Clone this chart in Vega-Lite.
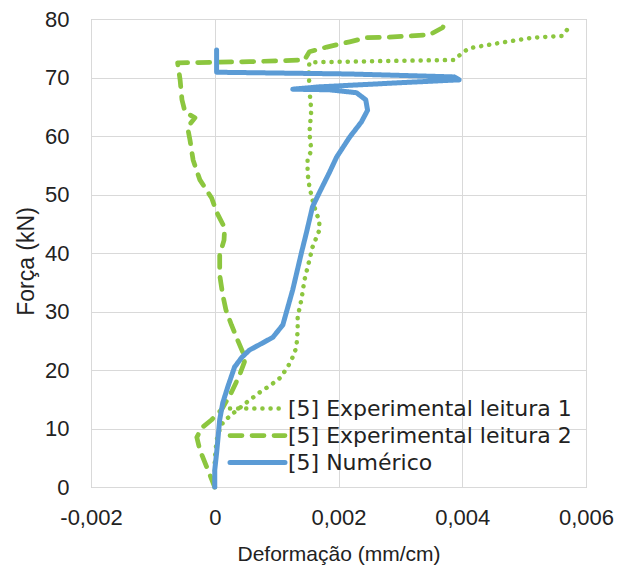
{
  "$schema": "https://vega.github.io/schema/vega-lite/v6.json",
  "width": 495,
  "height": 468,
  "autosize": {"type": "none"},
  "padding": {"left": 91, "top": 19, "right": 34, "bottom": 87},
  "background": "white",
  "config": {
    "view": {"stroke": "#bfbfbf", "strokeWidth": 1},
    "font": "Liberation Sans",
    "axis": {
      "grid": true, "gridColor": "#d9d9d9", "gridWidth": 1,
      "domain": false, "ticks": false,
      "labelFont": "Liberation Sans", "labelFontSize": 22, "labelColor": "#222222",
      "titleFont": "Liberation Sans", "titleFontSize": 21, "titleFontWeight": "normal", "titleColor": "#222222"
    }
  },
  "data": {"values": [
    {"s": "[5] Experimental leitura 1", "i": 0, "x": 0.0, "y": 0},
    {"s": "[5] Experimental leitura 1", "i": 1, "x": 0.0, "y": 4.6},
    {"s": "[5] Experimental leitura 1", "i": 2, "x": 0.00003, "y": 8.0},
    {"s": "[5] Experimental leitura 1", "i": 3, "x": 0.0001, "y": 10.6},
    {"s": "[5] Experimental leitura 1", "i": 4, "x": 0.00021, "y": 11.8},
    {"s": "[5] Experimental leitura 1", "i": 5, "x": 0.00032, "y": 12.8},
    {"s": "[5] Experimental leitura 1", "i": 6, "x": 0.00052, "y": 14.5},
    {"s": "[5] Experimental leitura 1", "i": 7, "x": 0.00073, "y": 16.2},
    {"s": "[5] Experimental leitura 1", "i": 8, "x": 0.00089, "y": 17.3},
    {"s": "[5] Experimental leitura 1", "i": 9, "x": 0.00105, "y": 18.6},
    {"s": "[5] Experimental leitura 1", "i": 10, "x": 0.00118, "y": 20.5},
    {"s": "[5] Experimental leitura 1", "i": 11, "x": 0.00126, "y": 22.2},
    {"s": "[5] Experimental leitura 1", "i": 12, "x": 0.00132, "y": 23.9},
    {"s": "[5] Experimental leitura 1", "i": 13, "x": 0.00134, "y": 26.8},
    {"s": "[5] Experimental leitura 1", "i": 14, "x": 0.00134, "y": 29.1},
    {"s": "[5] Experimental leitura 1", "i": 15, "x": 0.0014, "y": 32.0},
    {"s": "[5] Experimental leitura 1", "i": 16, "x": 0.00145, "y": 35.4},
    {"s": "[5] Experimental leitura 1", "i": 17, "x": 0.00153, "y": 38.8},
    {"s": "[5] Experimental leitura 1", "i": 18, "x": 0.00158, "y": 41.0},
    {"s": "[5] Experimental leitura 1", "i": 19, "x": 0.00169, "y": 43.9},
    {"s": "[5] Experimental leitura 1", "i": 20, "x": 0.00169, "y": 45.6},
    {"s": "[5] Experimental leitura 1", "i": 21, "x": 0.00164, "y": 46.8},
    {"s": "[5] Experimental leitura 1", "i": 22, "x": 0.00158, "y": 49.1},
    {"s": "[5] Experimental leitura 1", "i": 23, "x": 0.00153, "y": 51.3},
    {"s": "[5] Experimental leitura 1", "i": 24, "x": 0.0015, "y": 53.7},
    {"s": "[5] Experimental leitura 1", "i": 25, "x": 0.0015, "y": 55.9},
    {"s": "[5] Experimental leitura 1", "i": 26, "x": 0.00156, "y": 57.6},
    {"s": "[5] Experimental leitura 1", "i": 27, "x": 0.00153, "y": 60.5},
    {"s": "[5] Experimental leitura 1", "i": 28, "x": 0.00156, "y": 64.4},
    {"s": "[5] Experimental leitura 1", "i": 29, "x": 0.00153, "y": 67.9},
    {"s": "[5] Experimental leitura 1", "i": 30, "x": 0.00152, "y": 71.3},
    {"s": "[5] Experimental leitura 1", "i": 31, "x": 0.00153, "y": 72.6},
    {"s": "[5] Experimental leitura 1", "i": 32, "x": 0.00266, "y": 72.8},
    {"s": "[5] Experimental leitura 1", "i": 33, "x": 0.00387, "y": 73.0},
    {"s": "[5] Experimental leitura 1", "i": 34, "x": 0.004, "y": 74.2},
    {"s": "[5] Experimental leitura 1", "i": 35, "x": 0.00411, "y": 75.0},
    {"s": "[5] Experimental leitura 1", "i": 36, "x": 0.0046, "y": 75.9},
    {"s": "[5] Experimental leitura 1", "i": 37, "x": 0.00513, "y": 76.8},
    {"s": "[5] Experimental leitura 1", "i": 38, "x": 0.00561, "y": 77.1},
    {"s": "[5] Experimental leitura 1", "i": 39, "x": 0.00569, "y": 78.1},
    {"s": "[5] Experimental leitura 1", "i": 40, "x": 0.00577, "y": 79.1},
    {"s": "[5] Experimental leitura 2", "i": 0, "x": 0.0, "y": 0},
    {"s": "[5] Experimental leitura 2", "i": 1, "x": -0.00011, "y": 2.9},
    {"s": "[5] Experimental leitura 2", "i": 2, "x": -0.00024, "y": 6.3},
    {"s": "[5] Experimental leitura 2", "i": 3, "x": -0.00029, "y": 8.5},
    {"s": "[5] Experimental leitura 2", "i": 4, "x": -0.00021, "y": 10.1},
    {"s": "[5] Experimental leitura 2", "i": 5, "x": -0.00005, "y": 11.5},
    {"s": "[5] Experimental leitura 2", "i": 6, "x": 0.00011, "y": 13.2},
    {"s": "[5] Experimental leitura 2", "i": 7, "x": 0.00027, "y": 16.2},
    {"s": "[5] Experimental leitura 2", "i": 8, "x": 0.0004, "y": 19.1},
    {"s": "[5] Experimental leitura 2", "i": 9, "x": 0.00048, "y": 21.4},
    {"s": "[5] Experimental leitura 2", "i": 10, "x": 0.00045, "y": 23.1},
    {"s": "[5] Experimental leitura 2", "i": 11, "x": 0.00037, "y": 25.1},
    {"s": "[5] Experimental leitura 2", "i": 12, "x": 0.00027, "y": 27.7},
    {"s": "[5] Experimental leitura 2", "i": 13, "x": 0.00018, "y": 30.3},
    {"s": "[5] Experimental leitura 2", "i": 14, "x": 0.00013, "y": 32.8},
    {"s": "[5] Experimental leitura 2", "i": 15, "x": 0.00008, "y": 36.2},
    {"s": "[5] Experimental leitura 2", "i": 16, "x": 0.00008, "y": 39.7},
    {"s": "[5] Experimental leitura 2", "i": 17, "x": 0.00015, "y": 42.2},
    {"s": "[5] Experimental leitura 2", "i": 18, "x": 0.00016, "y": 44.3},
    {"s": "[5] Experimental leitura 2", "i": 19, "x": 0.00003, "y": 47.0},
    {"s": "[5] Experimental leitura 2", "i": 20, "x": -0.00005, "y": 49.4},
    {"s": "[5] Experimental leitura 2", "i": 21, "x": -0.00024, "y": 52.5},
    {"s": "[5] Experimental leitura 2", "i": 22, "x": -0.00035, "y": 55.9},
    {"s": "[5] Experimental leitura 2", "i": 23, "x": -0.0004, "y": 59.3},
    {"s": "[5] Experimental leitura 2", "i": 24, "x": -0.00044, "y": 61.5},
    {"s": "[5] Experimental leitura 2", "i": 25, "x": -0.00032, "y": 63.1},
    {"s": "[5] Experimental leitura 2", "i": 26, "x": -0.00048, "y": 64.1},
    {"s": "[5] Experimental leitura 2", "i": 27, "x": -0.00053, "y": 66.2},
    {"s": "[5] Experimental leitura 2", "i": 28, "x": -0.00056, "y": 69.6},
    {"s": "[5] Experimental leitura 2", "i": 29, "x": -0.0006, "y": 72.5},
    {"s": "[5] Experimental leitura 2", "i": 30, "x": 0.00056, "y": 72.7},
    {"s": "[5] Experimental leitura 2", "i": 31, "x": 0.00145, "y": 73.0},
    {"s": "[5] Experimental leitura 2", "i": 32, "x": 0.00153, "y": 74.4},
    {"s": "[5] Experimental leitura 2", "i": 33, "x": 0.00181, "y": 75.2},
    {"s": "[5] Experimental leitura 2", "i": 34, "x": 0.00218, "y": 76.1},
    {"s": "[5] Experimental leitura 2", "i": 35, "x": 0.00245, "y": 76.8},
    {"s": "[5] Experimental leitura 2", "i": 36, "x": 0.00282, "y": 76.9},
    {"s": "[5] Experimental leitura 2", "i": 37, "x": 0.00347, "y": 77.3},
    {"s": "[5] Experimental leitura 2", "i": 38, "x": 0.00368, "y": 78.5},
    {"s": "[5] Experimental leitura 2", "i": 39, "x": 0.00374, "y": 79.5},
    {"s": "[5] Numérico", "i": 0, "x": 0.0, "y": 0},
    {"s": "[5] Numérico", "i": 1, "x": 0.0, "y": 2.9},
    {"s": "[5] Numérico", "i": 2, "x": 0.00003, "y": 5.8},
    {"s": "[5] Numérico", "i": 3, "x": 0.00008, "y": 11.5},
    {"s": "[5] Numérico", "i": 4, "x": 0.00013, "y": 14.4},
    {"s": "[5] Numérico", "i": 5, "x": 0.00021, "y": 17.1},
    {"s": "[5] Numérico", "i": 6, "x": 0.00032, "y": 20.5},
    {"s": "[5] Numérico", "i": 7, "x": 0.00044, "y": 22.2},
    {"s": "[5] Numérico", "i": 8, "x": 0.00056, "y": 23.4},
    {"s": "[5] Numérico", "i": 9, "x": 0.00077, "y": 24.6},
    {"s": "[5] Numérico", "i": 10, "x": 0.00094, "y": 25.6},
    {"s": "[5] Numérico", "i": 11, "x": 0.0011, "y": 27.7},
    {"s": "[5] Numérico", "i": 12, "x": 0.00126, "y": 33.7},
    {"s": "[5] Numérico", "i": 13, "x": 0.0014, "y": 40.0},
    {"s": "[5] Numérico", "i": 14, "x": 0.00148, "y": 43.4},
    {"s": "[5] Numérico", "i": 15, "x": 0.00158, "y": 47.9},
    {"s": "[5] Numérico", "i": 16, "x": 0.00169, "y": 50.3},
    {"s": "[5] Numérico", "i": 17, "x": 0.00185, "y": 53.7},
    {"s": "[5] Numérico", "i": 18, "x": 0.00197, "y": 56.4},
    {"s": "[5] Numérico", "i": 19, "x": 0.00218, "y": 59.8},
    {"s": "[5] Numérico", "i": 20, "x": 0.00237, "y": 62.4},
    {"s": "[5] Numérico", "i": 21, "x": 0.00247, "y": 64.4},
    {"s": "[5] Numérico", "i": 22, "x": 0.00244, "y": 66.2},
    {"s": "[5] Numérico", "i": 23, "x": 0.00229, "y": 67.4},
    {"s": "[5] Numérico", "i": 24, "x": 0.00185, "y": 67.9},
    {"s": "[5] Numérico", "i": 25, "x": 0.00126, "y": 68.0},
    {"s": "[5] Numérico", "i": 26, "x": 0.00169, "y": 68.4},
    {"s": "[5] Numérico", "i": 27, "x": 0.00298, "y": 69.1},
    {"s": "[5] Numérico", "i": 28, "x": 0.00395, "y": 69.6},
    {"s": "[5] Numérico", "i": 29, "x": 0.00387, "y": 70.1},
    {"s": "[5] Numérico", "i": 30, "x": 0.00218, "y": 70.6},
    {"s": "[5] Numérico", "i": 31, "x": 0.00003, "y": 70.9},
    {"s": "[5] Numérico", "i": 32, "x": 0.00003, "y": 74.7}
  ]},
  "mark": {"type": "line", "strokeCap": "round", "strokeJoin": "round"},
  "encoding": {
    "x": {
      "field": "x", "type": "quantitative",
      "scale": {"domain": [-0.002, 0.006], "nice": false, "zero": false},
      "axis": {
        "values": [-0.002, 0, 0.002, 0.004, 0.006],
        "labelExpr": "datum.value == 0 ? '0' : replace(replace(format(datum.value, '.3f'), '.', ','), '\u2212', '-')",
        "labelFlush": false, "labelPadding": 20,
        "title": "Deformação (mm/cm)", "titlePadding": 15
      }
    },
    "y": {
      "field": "y", "type": "quantitative",
      "scale": {"domain": [0, 80], "nice": false},
      "axis": {
        "values": [0, 10, 20, 30, 40, 50, 60, 70, 80],
        "labelPadding": 22, "title": "Força (kN)", "titlePadding": 6, "titleFontSize": 23, "titleY": 242
      }
    },
    "color": {
      "field": "s", "type": "nominal",
      "scale": {"domain": ["[5] Experimental leitura 1", "[5] Experimental leitura 2", "[5] Numérico"], "range": ["#8CC63F", "#8CC63F", "#5B9BD5"]},
      "legend": {
        "orient": "none", "legendX": 153, "legendY": 376, "title": null,
        "symbolType": "M-2.5,0H2.5", "symbolSize": 484, "symbolStrokeWidth": 5,
        "labelOffset": 17, "labelFont": "DejaVu Sans", "labelFontSize": 22, "labelColor": "#222222",
        "rowPadding": 2, "padding": 0, "labelLimit": 400,
        "encode": {"symbols": {"update": {"strokeCap": {"value": "round"}}}}
      }
    },
    "strokeDash": {
      "field": "s", "type": "nominal",
      "scale": {"domain": ["[5] Experimental leitura 1", "[5] Experimental leitura 2", "[5] Numérico"], "range": [[0.1, 8], [12, 10], [1, 0]]},
      "legend": {
        "orient": "none", "legendX": 153, "legendY": 376, "title": null,
        "symbolType": "M-2.5,0H2.5", "symbolSize": 484, "symbolStrokeWidth": 5,
        "labelOffset": 17, "labelFont": "DejaVu Sans", "labelFontSize": 22, "labelColor": "#222222",
        "rowPadding": 2, "padding": 0, "labelLimit": 400,
        "encode": {"symbols": {"update": {"strokeCap": {"value": "round"}}}}
      }
    },
    "strokeWidth": {
      "field": "s", "type": "nominal",
      "scale": {"domain": ["[5] Experimental leitura 1", "[5] Experimental leitura 2", "[5] Numérico"], "range": [4.5, 5, 5.5]},
      "legend": null
    },
    "order": {"field": "i", "type": "quantitative"}
  }
}
